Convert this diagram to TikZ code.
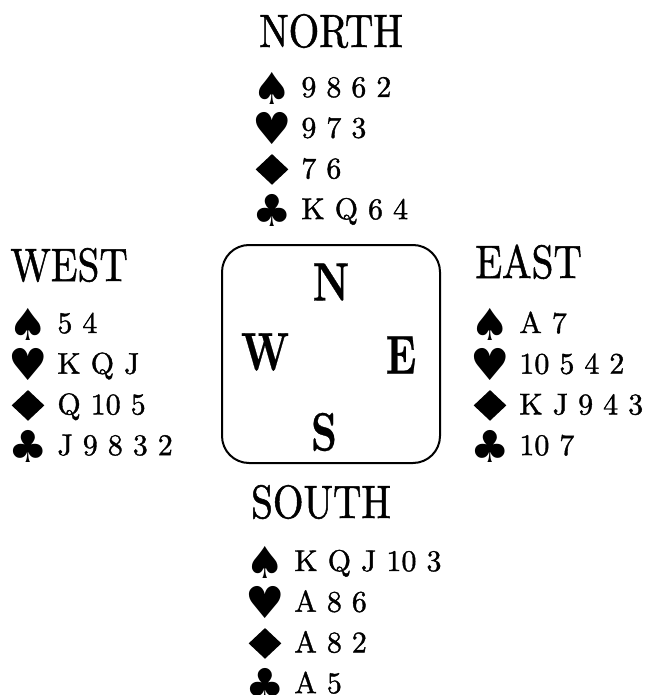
\documentclass[tikz,border=0pt]{standalone}
\usepackage{fontspec}
\setmainfont{lmroman10-regular.otf}[FakeBold=1.2,BoldFont=lmroman10-bold.otf,
  BoldFeatures={FakeBold=0.6}]
\newfontfamily\suitfont{DejaVu Sans}
\usetikzlibrary{positioning,shapes.geometric}

% headings are set a little narrow
\newcommand{\narrow}[2][0.84]{\scalebox{#1}[1]{#2}}

% #1 name, #2 x of the suit signs, #3 first baseline, #4--#7 the four suits
\newcommand{\hand}[7]{%
  \foreach \sty/\sym/\holding [count=\i from 0] in
      {suit/♠/#4,suit/♥/#5,gem//#6,suit/♣/#7}{
    \node[\sty]  (#1s\i) at (#2,#3+\i*40.7-9) {\sym};
    \node[cards] (#1c\i) at (#2+29,#3+\i*40.7) {\holding};
  }}

\begin{document}
\begin{tikzpicture}[x=0.5pt,y=-0.5pt,
    seat/.style={inner sep=0pt,font=\fontsize{23.4}{28}\selectfont},
    compass/.style={inner sep=0pt,font=\fontsize{27}{32}\selectfont\bfseries},
    suit/.style={inner sep=0pt,font=\suitfont\fontsize{22}{26}\selectfont},
    gem/.style={diamond,fill,inner sep=0pt,minimum width=16.5pt,minimum height=15.5pt},
    cards/.style={inner sep=0pt,anchor=base west,font=\fontsize{15}{18}\selectfont},
    table/.style={draw,line width=1pt,rounded corners=13.5pt,
                  minimum width=109pt,minimum height=109pt}]
  \useasboundingbox (0,0) rectangle (644,695);

  % seats
  \node[seat,anchor=base]      (north) at (331,47)  {\narrow{NORTH}};
  \node[seat,anchor=base west] (west)  at (10,281)  {\narrow{WEST}};
  \node[seat,anchor=base west] (east)  at (475,278) {\narrow{EAST}};
  \node[seat,anchor=base]      (south) at (321,518) {\narrow{SOUTH}};

  % the table
  \node[table] (table) at (331,354) {};
  \node[compass] (tn) at (331,282) {\narrow[0.75]{N}};
  \node[compass] (tw) at (265,352) {\narrow[0.75]{W}};
  \node[compass] (te) at (401,355) {\narrow[0.75]{E}};
  \node[compass] (ts) at (324,432) {\narrow[0.75]{S}};

  % the hands
  \hand{n}{272}{97}{9 8 6 2}{9 7 3}{7 6}{K Q 6 4}
  \hand{w}{28}{333}{5 4}{K Q J}{Q 10 5}{J 9 8 3 2}
  \hand{e}{490}{333}{A 7}{10 5 4 2}{K J 9 4 3}{10 7}
  \hand{s}{265}{571}{K Q J 10 3}{A 8 6}{A 8 2}{A 5}
\end{tikzpicture}
\end{document}
